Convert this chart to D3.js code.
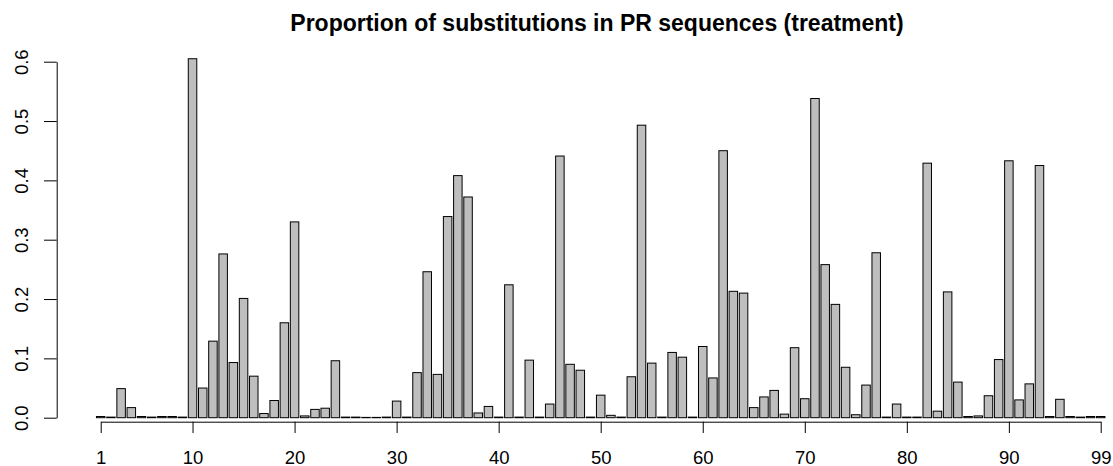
<!DOCTYPE html>
<html>
<head>
<meta charset="utf-8">
<script src="https://cdn.jsdelivr.net/npm/d3@7/dist/d3.min.js"></script>
<style>
  html, body { margin: 0; padding: 0; background: #fff; }
  svg { display: block; }
</style>
</head>
<body>
<svg id="chart" width="1113" height="466"></svg>
<script>
const positions = d3.range(1, 100);
const proportions = [
  0.002, 0.001, 0.049, 0.017, 0.002, 0.001, 0.002, 0.002, 0.001, 0.605,
  0.050, 0.129, 0.276, 0.093, 0.201, 0.070, 0.007, 0.029, 0.160, 0.330,
  0.003, 0.014, 0.016, 0.096, 0.001, 0.001, 0.0005, 0.0005, 0.001, 0.028,
  0.001, 0.076, 0.246, 0.073, 0.339, 0.408, 0.372, 0.008, 0.019, 0.001,
  0.224, 0.001, 0.097, 0.001, 0.023, 0.441, 0.090, 0.080, 0.001, 0.038,
  0.004, 0.001, 0.069, 0.493, 0.092, 0.001, 0.110, 0.102, 0.001, 0.120,
  0.067, 0.450, 0.213, 0.210, 0.017, 0.035, 0.046, 0.006, 0.118, 0.032,
  0.538, 0.258, 0.191, 0.085, 0.005, 0.055, 0.278, 0.001, 0.023, 0.001,
  0.001, 0.429, 0.011, 0.212, 0.060, 0.002, 0.003, 0.037, 0.098, 0.433,
  0.030, 0.057, 0.425, 0.002, 0.031, 0.002, 0.001, 0.002, 0.002
];
const xTickLabels = [1, 10, 20, 30, 40, 50, 60, 70, 80, 90, 99];
const yTickLabels = [0.0, 0.1, 0.2, 0.3, 0.4, 0.5, 0.6];
const titleText = "Proportion of substitutions in PR sequences (treatment)";

const svg = d3.select("#chart");
const font = "'Liberation Sans', Arial, Helvetica, sans-serif";

const x = d3.scaleLinear().domain([1, 99]).range([100.7, 1100.7]);
const y = d3.scaleLinear().domain([0, 0.6]).range([417.7, 61.7]);
const pitch = x(2) - x(1);
const barW = pitch / 1.2;

// bars
svg.append("g")
  .selectAll("rect")
  .data(positions)
  .join("rect")
  .attr("x", d => x(d) - barW / 2)
  .attr("width", barW)
  .attr("y", (d, i) => y(proportions[i]))
  .attr("height", (d, i) => y(0) - y(proportions[i]))
  .attr("fill", "#bebebe")
  .attr("stroke", "#000")
  .attr("stroke-width", 1);

// y axis
const yAxis = svg.append("g")
  .attr("transform", "translate(56.7,0)")
  .call(d3.axisLeft(y).tickValues(yTickLabels).tickSize(12.7).tickSizeOuter(0).tickFormat(d3.format(".1f")));
yAxis.select(".domain").attr("stroke", "#000").attr("stroke-width", 1);
yAxis.selectAll(".tick line").attr("stroke", "#000").attr("stroke-width", 1);
yAxis.selectAll(".tick text")
  .attr("x", null).attr("dy", null)
  .attr("transform", "translate(-28.4,0) rotate(-90)")
  .attr("text-anchor", "middle")
  .attr("fill", "#000")
  .style("font-family", font)
  .style("font-size", "18.5px");

// x axis
const xAxis = svg.append("g")
  .attr("transform", "translate(0,421.7)")
  .call(d3.axisBottom(x).tickValues(xTickLabels).tickSize(11.3).tickSizeOuter(0).tickFormat(d3.format("d")));
xAxis.select(".domain").attr("stroke", "#000").attr("stroke-width", 1);
xAxis.selectAll(".tick line").attr("stroke", "#000").attr("stroke-width", 1);
xAxis.selectAll(".tick text")
  .attr("y", 42.6).attr("dy", null)
  .attr("fill", "#000")
  .style("font-family", font)
  .style("font-size", "18.5px");

// title
svg.append("text")
  .attr("x", 597)
  .attr("y", 31)
  .attr("text-anchor", "middle")
  .style("font-family", font)
  .style("font-size", "23px")
  .style("font-weight", "bold")
  .attr("fill", "#000")
  .text(titleText);
</script>
</body>
</html>
